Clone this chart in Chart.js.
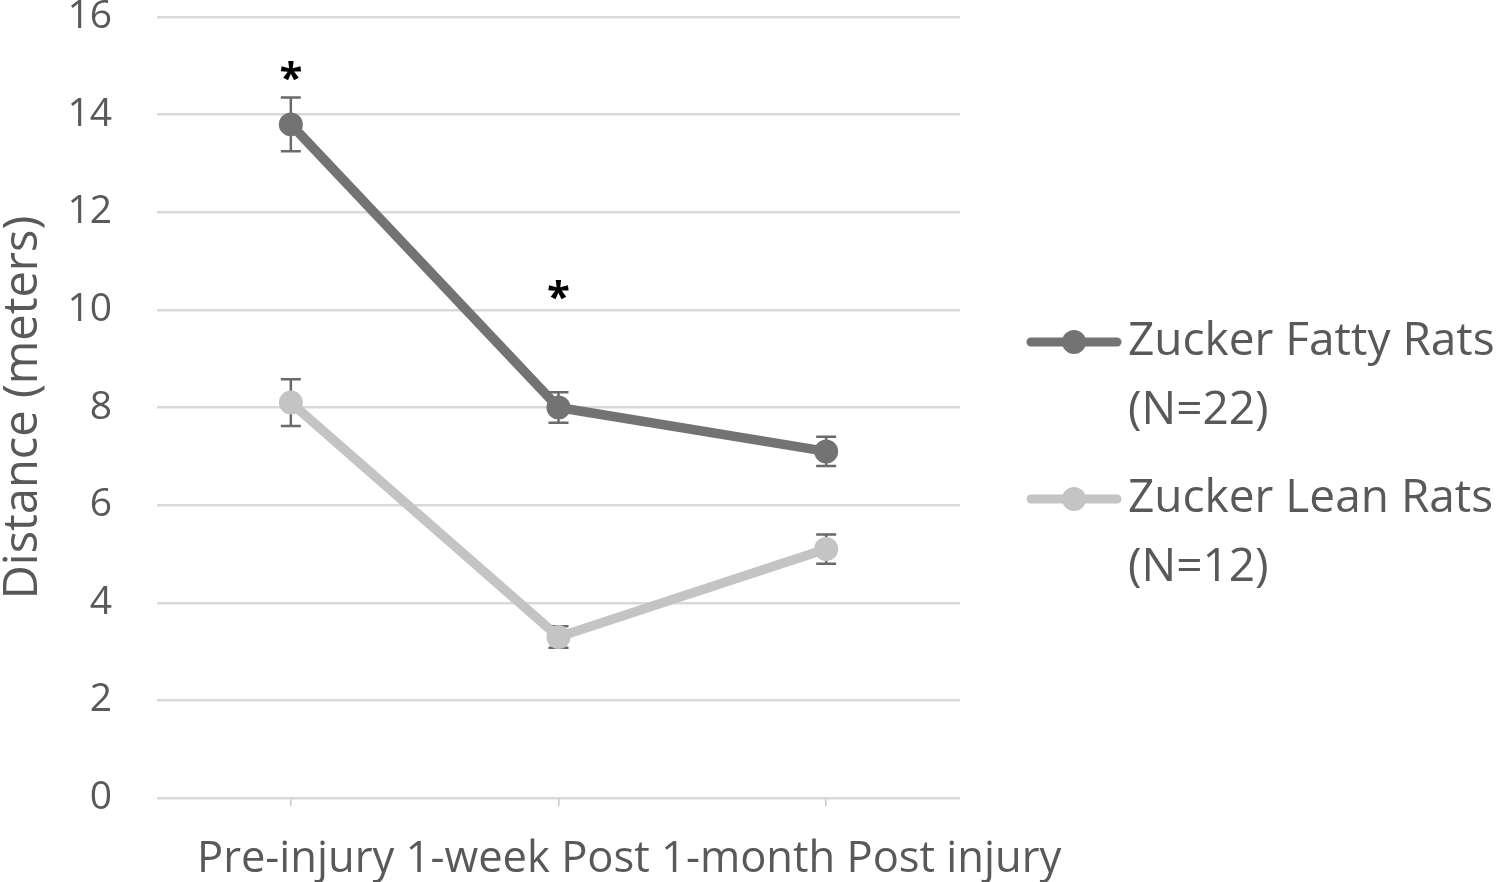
<!DOCTYPE html>
<html lang="en">
<head>
  <meta charset="UTF-8" />
  <title>Distance - Zucker rats</title>
  <script src="https://cdn.jsdelivr.net/npm/chart.js@4.4.1/dist/chart.umd.min.js"></script>
  <style>
    html, body { margin: 0; padding: 0; background: #fff; }
    #wrap { width: 1500px; height: 882px; }
  </style>
</head>
<body>
  <div id="wrap"><canvas id="myChart" width="1500" height="882"></canvas></div>

  <script>
    // data
    const categories = ['Pre-injury', '1-week Post', '1-month Post injury'];
    const fattyLabel = 'Zucker Fatty Rats\n(N=22)';
    const fattyMeans = [13.8, 8.0, 7.1];
    const fattyErr = [0.55, 0.31, 0.3];
    const leanLabel = 'Zucker Lean Rats\n(N=12)';
    const leanMeans = [8.1, 3.3, 5.1];
    const leanErr = [0.48, 0.22, 0.3];
    const starValues = [14.9, 10.4, null]; // "*" marks above fatty group
    const yTicks = [0, 2, 4, 6, 8, 10, 12, 14, 16];

    const FONT = '"Open Sans", "Noto Sans", sans-serif';
    const TEXT = '#595959';
    const DARK = '#737373';
    const LIGHT = '#c4c4c4';
    const ERRCOL = '#6a6a6a';

    const errors = [fattyErr, leanErr];

    // error bars go under the markers
    const errorBars = {
      id: 'errorBars',
      beforeDatasetsDraw(chart) {
        const ctx = chart.ctx;
        const y = chart.scales.y;
        ctx.save();
        ctx.strokeStyle = ERRCOL;
        ctx.lineWidth = 2.5;
        chart.data.datasets.forEach((ds, i) => {
          chart.getDatasetMeta(i).data.forEach((pt, j) => {
            const v = ds.data[j], e = errors[i][j];
            const top = y.getPixelForValue(v + e);
            const bot = y.getPixelForValue(v - e);
            ctx.beginPath();
            ctx.moveTo(pt.x, top); ctx.lineTo(pt.x, bot);
            ctx.moveTo(pt.x - 10, top); ctx.lineTo(pt.x + 10, top);
            ctx.moveTo(pt.x - 10, bot); ctx.lineTo(pt.x + 10, bot);
            ctx.stroke();
          });
        });
        ctx.restore();
      }
    };

    // asterisks, x axis caption and the two-line legend
    const extras = {
      id: 'extras',
      afterDraw(chart) {
        const ctx = chart.ctx;
        const xs = chart.scales.x, ys = chart.scales.y;
        const area = chart.chartArea;
        ctx.save();

        ctx.fillStyle = '#000';
        ctx.font = 'bold 42px ' + FONT;
        ctx.textAlign = 'center';
        ctx.textBaseline = 'alphabetic';
        const m = ctx.measureText('*');
        starValues.forEach((v, i) => {
          if (v == null) return;
          const px = xs.getPixelForValue(i);
          const py = ys.getPixelForValue(v) + (m.actualBoundingBoxAscent - m.actualBoundingBoxDescent) / 2;
          ctx.fillText('*', px, py);
        });

        ctx.font = '43.5px ' + FONT;
        ctx.fillStyle = TEXT;
        ctx.textAlign = 'left';
        ctx.fillText(categories.join(' '), area.left + 40, 872);

        ctx.font = '46px ' + FONT;
        let ly = 342;
        chart.data.datasets.forEach(ds => {
          ctx.strokeStyle = ds.borderColor;
          ctx.lineWidth = 9;
          ctx.lineCap = 'round';
          ctx.beginPath();
          ctx.moveTo(1031, ly); ctx.lineTo(1117, ly);
          ctx.stroke();
          ctx.fillStyle = ds.borderColor;
          ctx.beginPath();
          ctx.arc(1074, ly, 12, 0, Math.PI * 2);
          ctx.fill();
          ctx.fillStyle = TEXT;
          ds.label.split('\n').forEach((line, k) => {
            ctx.fillText(line, 1128, ly + 13 + k * 69);
          });
          ly += 157;
        });
        ctx.restore();
      }
    };

    new Chart(document.getElementById('myChart'), {
      type: 'line',
      data: {
        labels: categories,
        datasets: [
          {
            label: fattyLabel, data: fattyMeans,
            borderColor: DARK, backgroundColor: DARK,
            borderWidth: 9.5, pointRadius: 12, pointBorderWidth: 0,
            pointBackgroundColor: DARK
          },
          {
            label: leanLabel, data: leanMeans,
            borderColor: LIGHT, backgroundColor: LIGHT,
            borderWidth: 9.5, pointRadius: 12, pointBorderWidth: 0,
            pointBackgroundColor: LIGHT
          }
        ]
      },
      options: {
        responsive: false,
        animation: false,
        devicePixelRatio: 1,
        layout: { padding: { top: 17, right: 540, left: 0, bottom: 0 } },
        plugins: { legend: { display: false }, tooltip: { enabled: false } },
        scales: {
          x: {
            offset: true,
            border: { display: false },
            grid: { offset: false, drawOnChartArea: false, drawTicks: true, tickLength: 8, color: '#c8c8c8', lineWidth: 1.5 },
            ticks: { display: false },
            afterFit(s) { s.height = 84; s.paddingLeft = 0; s.paddingRight = 0; }
          },
          y: {
            min: 0, max: 16,
            afterBuildTicks(s) { s.ticks = yTicks.map(v => ({ value: v })); },
            border: { display: false },
            grid: { drawTicks: false, color: '#d9d9d9', lineWidth: 2.5 },
            ticks: { color: TEXT, padding: 45, font: { family: FONT, size: 39 } },
            title: {
              display: true, text: 'Distance (meters)', color: TEXT,
              padding: 0, font: { family: FONT, size: 47, lineHeight: 1 }
            },
            afterFit(s) { s.width = 157; s.paddingTop = 0; s.paddingBottom = 0; }
          }
        }
      },
      plugins: [errorBars, extras]
    });
  </script>
</body>
</html>
